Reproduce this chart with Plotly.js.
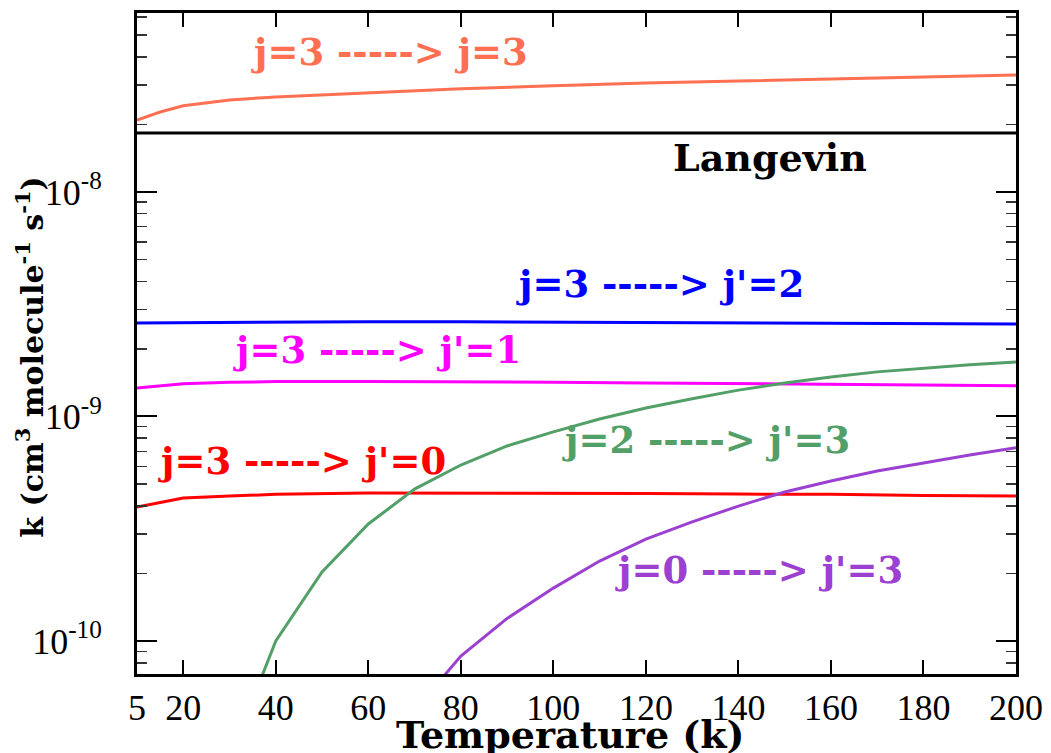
<!DOCTYPE html>
<html>
<head>
<meta charset="utf-8">
<script src="https://cdn.plot.ly/plotly-3.0.1.min.js"></script>
<style>html,body{margin:0;padding:0;background:#fff;}#chart{width:1051px;height:753px;}</style>
</head>
<body>
<div id="chart"></div>
<script>
// Temperature grids (the axis starts at 10, which the original labels "5")
const tempA = [10, 15, 20, 30, 40, 60, 80, 100, 120, 140, 160, 180, 200];
const tempB = [10, 20, 30, 40, 60, 80, 100, 120, 140, 160, 180, 200];
const tempGreen = [30, 40, 50, 60, 70, 80, 90, 100, 110, 120, 130, 140, 150, 160, 170, 180, 190, 200];
const tempPurple = [70, 80, 90, 100, 110, 120, 130, 140, 150, 160, 170, 180, 190, 200];

// rate coefficients (cm^3 molecule^-1 s^-1)
const k33 = [2.09e-8, 2.27e-8, 2.42e-8, 2.57e-8, 2.65e-8, 2.76e-8, 2.88e-8, 2.97e-8, 3.06e-8, 3.12e-8, 3.19e-8, 3.25e-8, 3.32e-8];
const kLangevin = [1.83e-8, 1.83e-8, 1.83e-8, 1.83e-8, 1.83e-8, 1.83e-8, 1.83e-8, 1.83e-8, 1.83e-8, 1.83e-8, 1.83e-8, 1.83e-8, 1.83e-8];
const k32 = [2.61e-9, 2.62e-9, 2.62e-9, 2.63e-9, 2.64e-9, 2.64e-9, 2.63e-9, 2.62e-9, 2.61e-9, 2.61e-9, 2.60e-9, 2.58e-9];
const k31 = [1.34e-9, 1.40e-9, 1.42e-9, 1.43e-9, 1.43e-9, 1.43e-9, 1.42e-9, 1.41e-9, 1.40e-9, 1.38e-9, 1.38e-9, 1.37e-9];
const k30 = [3.95e-10, 4.33e-10, 4.42e-10, 4.50e-10, 4.56e-10, 4.56e-10, 4.56e-10, 4.54e-10, 4.51e-10, 4.50e-10, 4.45e-10, 4.42e-10];
const k23 = [3.0e-11, 1.0e-10, 2.03e-10, 3.32e-10, 4.75e-10, 6.08e-10, 7.39e-10, 8.54e-10, 9.75e-10, 1.09e-9, 1.20e-9, 1.31e-9, 1.41e-9, 1.50e-9, 1.58e-9, 1.64e-9, 1.70e-9, 1.75e-9];
const k03 = [4.9e-11, 8.57e-11, 1.26e-10, 1.72e-10, 2.27e-10, 2.84e-10, 3.39e-10, 3.99e-10, 4.61e-10, 5.16e-10, 5.72e-10, 6.21e-10, 6.74e-10, 7.25e-10];

// tick labels
const xTickVals = [10, 20, 40, 60, 80, 100, 120, 140, 160, 180, 200];
const xTickText = ['5', '20', '40', '60', '80', '100', '120', '140', '160', '180', '200'];
const yTickVals = [1e-10, 1e-9, 1e-8];
const yTickText = ['10<sup>-10</sup>', '10<sup>-9</sup>', '10<sup>-8</sup>'];
const yMinorVals = [7e-11, 8e-11, 9e-11, 2e-10, 3e-10, 4e-10, 5e-10, 6e-10, 7e-10, 8e-10, 9e-10,
  2e-9, 3e-9, 4e-9, 5e-9, 6e-9, 7e-9, 8e-9, 9e-9, 2e-8, 3e-8, 4e-8, 5e-8, 6e-8];

// labels
const labels = ['j=3 -----> j=3', 'Langevin', "j=3 -----> j'=2", "j=3 -----> j'=1", "j=3 -----> j'=0", "j=2 -----> j'=3", "j=0 -----> j'=3"];

const colors = {c33: '#FF7052', lang: '#000000', c32: '#0000FF', c31: '#FF00FF', c30: '#FF0000', c23: '#52A068', c03: '#9B40D0'};

function tr(x, y, c, w) {
  return {x: x, y: y, type: 'scatter', mode: 'lines', line: {color: c, width: w}, showlegend: false, hoverinfo: 'skip'};
}

const data = [
  tr(tempA, kLangevin, colors.lang, 3),
  tr(tempA, k33, colors.c33, 3),
  tr(tempB, k32, colors.c32, 3),
  tr(tempB, k31, colors.c31, 3),
  tr(tempB, k30, colors.c30, 3),
  tr(tempGreen, k23, colors.c23, 3),
  tr(tempPurple, k03, colors.c03, 3)
];

const annFont = 'DejaVu Serif';
function ann(text, x, y, color, size) {
  return {text: '<b>' + text + '</b>', xref: 'paper', yref: 'paper', x: x, y: y, showarrow: false,
    xanchor: 'center', yanchor: 'middle', font: {family: annFont, size: size, color: color}};
}

const layout = {
  width: 1051, height: 753,
  margin: {l: 137, r: 35, t: 13, b: 79},
  paper_bgcolor: '#ffffff', plot_bgcolor: '#ffffff',
  xaxis: {
    type: 'linear', range: [10, 200],
    tickmode: 'array', tickvals: xTickVals, ticktext: xTickText,
    ticks: 'inside', ticklen: 14, tickwidth: 2, tickcolor: '#000',
    showline: true, linewidth: 3, linecolor: '#000', mirror: 'ticks',
    showgrid: false, zeroline: false,
    tickfont: {family: 'Liberation Serif', size: 36, color: '#000'},
    ticklabelstandoff: 0
  },
  yaxis: {
    type: 'log', range: [-10.147, -7.203],
    tickmode: 'array', tickvals: yTickVals, ticktext: yTickText,
    ticks: 'inside', ticklen: 20, tickwidth: 2, tickcolor: '#000',
    minor: {tickmode: 'array', tickvals: yMinorVals, ticks: 'inside', ticklen: 10, tickwidth: 1.5, tickcolor: '#333', showgrid: false},
    showline: true, linewidth: 3, linecolor: '#000', mirror: 'ticks',
    showgrid: false, zeroline: false,
    tickfont: {family: 'Liberation Serif', size: 36, color: '#000'},
    ticklabelstandoff: 25
  },
  annotations: [
    ann(labels[0], 0.2878, 0.941, colors.c33, 37),
    ann(labels[1], 0.720, 0.781, '#000', 38),
    ann(labels[2], 0.595, 0.590, colors.c32, 37),
    ann(labels[3], 0.273, 0.490, colors.c31, 37),
    ann(labels[4], 0.188, 0.322, colors.c30, 37),
    ann(labels[5], 0.647, 0.354, colors.c23, 37),
    ann(labels[6], 0.708, 0.157, colors.c03, 37),
    {text: '<b>Temperature (k)</b>', xref: 'paper', yref: 'paper', x: 0.4937, y: -0.091, showarrow: false,
      xanchor: 'center', yanchor: 'middle', font: {family: annFont, size: 38, color: '#000'}},
    {text: '<b>k (cm<sup>3</sup> molecule<sup>-1</sup> s<sup>-1</sup>)</b>', xref: 'paper', yref: 'paper', x: -0.1217, y: 0.48,
      showarrow: false, textangle: -90, xanchor: 'center', yanchor: 'middle', font: {family: annFont, size: 30, color: '#000'}}
  ]
};

Plotly.newPlot('chart', data, layout, {displayModeBar: false, staticPlot: true});
</script>
</body>
</html>
